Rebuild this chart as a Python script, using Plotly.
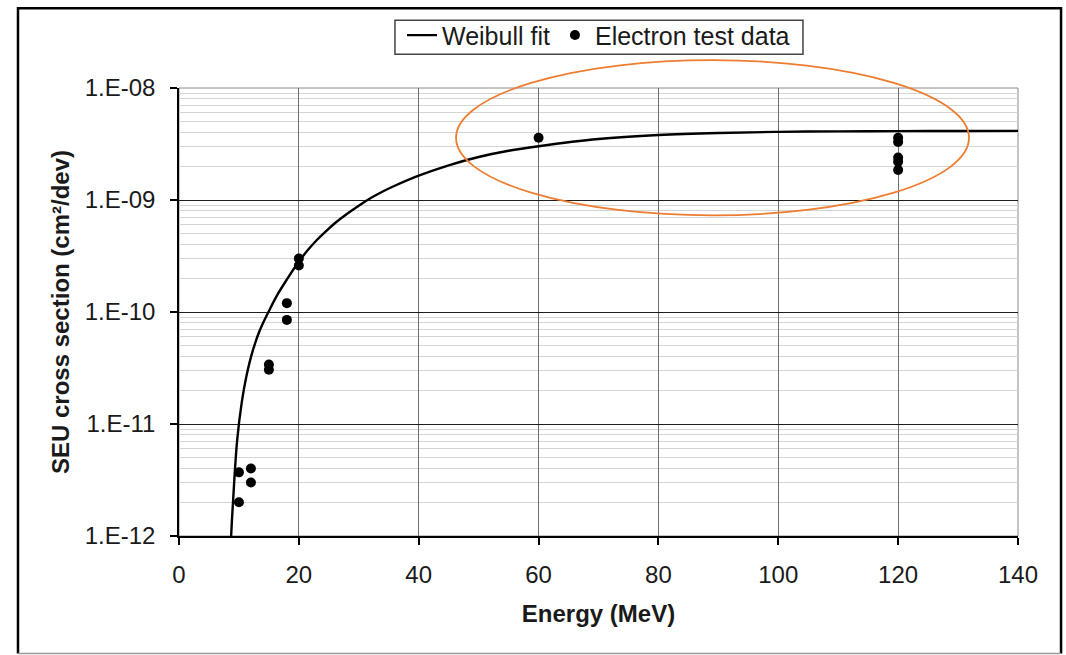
import plotly.graph_objects as go

# Electron test data (Energy MeV, SEU cross section cm^2/dev)
energy_data = [10, 10, 12, 12, 15, 15, 18, 18, 20, 20, 60, 120, 120, 120, 120, 120]
seu_data = [3.7e-12, 2.0e-12, 4.0e-12, 3.0e-12, 3.4e-11, 3.05e-11, 1.2e-10, 8.5e-11,
            3.0e-10, 2.6e-10, 3.6e-9, 3.6e-9, 3.3e-9, 2.4e-9, 2.2e-9, 1.85e-9]

# Weibull fit curve
fit_energy = [8.5, 8.7, 9.0, 9.7, 10.5, 11.3, 12.3, 13.5, 15.2, 16.5, 18.0, 20.0, 21.5, 23.0,
              24.5, 26.0, 28.0, 30.0, 32.0, 34.0, 36.0, 40.0, 45.0, 50.0, 55.0, 60.0, 70.0,
              80.0, 90.0, 100.0, 110.0, 120.0, 130.0, 140.0]
fit_seu = [5e-13, 1.0e-12, 1.96e-12, 7.1e-12, 1.6e-11, 2.75e-11, 4.5e-11, 6.9e-11, 1.07e-10,
           1.45e-10, 1.95e-10, 2.82e-10, 3.57e-10, 4.39e-10, 5.25e-10, 6.2e-10, 7.5e-10,
           8.9e-10, 1.04e-9, 1.19e-9, 1.34e-9, 1.65e-9, 2.04e-9, 2.42e-9, 2.75e-9, 3.02e-9,
           3.50e-9, 3.80e-9, 3.97e-9, 4.06e-9, 4.10e-9, 4.12e-9, 4.13e-9, 4.14e-9]

x_ticks = [0, 20, 40, 60, 80, 100, 120, 140]
y_tickvals = [1e-12, 1e-11, 1e-10, 1e-9, 1e-8]
y_ticktext = ["1.E-12", "1.E-11", "1.E-10", "1.E-09", "1.E-08"]

FONT = "Liberation Sans, Arial, sans-serif"
TXT = "#1a1a1a"

fig = go.Figure()
fig.add_trace(go.Scatter(
    x=fit_energy, y=fit_seu, mode="lines", name="Weibull fit",
    line=dict(color="black", width=2.4, shape="spline", smoothing=1.0),
))
fig.add_trace(go.Scatter(
    x=energy_data, y=seu_data, mode="markers", name="Electron test data",
    marker=dict(color="black", size=10, symbol="circle"),
))

minor_vals = [m * 10 ** e for e in range(-12, -8) for m in range(2, 10)]

fig.update_layout(
    width=1066, height=655,
    margin=dict(l=179, r=48, t=86, b=119),
    paper_bgcolor="white", plot_bgcolor="white",
    font=dict(family=FONT, size=24, color=TXT),
    showlegend=True,
    legend=dict(
        orientation="h", x=0.5, xanchor="center", y=1.1689, yanchor="top",
        borderwidth=0, bgcolor="rgba(0,0,0,0)",
        font=dict(family=FONT, size=25, color=TXT),
        itemwidth=30, tracegroupgap=0,
    ),
    xaxis=dict(
        range=[0, 140], tickvals=x_ticks, ticktext=[str(v) for v in x_ticks],
        showgrid=True, gridcolor="#6e6e6e", gridwidth=1,
        showline=True, linecolor="black", linewidth=1.5,
        ticks="outside", ticklen=7, tickcolor="black", tickwidth=1.5,
        zeroline=False, ticklabelstandoff=9,
        tickfont=dict(family=FONT, size=24, color=TXT),
        title=dict(text="<b>Energy (MeV)</b>", font=dict(family=FONT, size=24, color=TXT), standoff=19),
        automargin=False,
    ),
    yaxis=dict(
        type="log", range=[-12, -8], tickvals=y_tickvals, ticktext=y_ticktext,
        showgrid=True, gridcolor="#1e1e1e", gridwidth=1,
        showline=True, linecolor="black", linewidth=1.5,
        ticks="outside", ticklen=7, tickcolor="black", tickwidth=1.5,
        zeroline=False, ticklabelstandoff=10,
        tickfont=dict(family=FONT, size=24, color=TXT),
        minor=dict(tickvals=minor_vals, showgrid=True, gridcolor="#d4d4d4", gridwidth=1, ticks=""),
        title=dict(text="<b>SEU cross section (cm²/dev)</b>", font=dict(family=FONT, size=24, color=TXT), standoff=8),
        automargin=False,
    ),
    shapes=[
        # plot area border (gray)
        dict(type="rect", xref="paper", yref="paper", x0=0, x1=1, y0=0, y1=1,
             line=dict(color="#8a8a8a", width=1), layer="below"),
        # orange highlight ellipse
        dict(type="circle", xref="paper", yref="paper", x0=0.3302, x1=0.9416, y0=0.7156, y1=1.0622,
             line=dict(color="#ED7D31", width=1.8), layer="above"),
        # legend box
        dict(type="rect", xref="paper", yref="paper", x0=0.2574, x1=0.7437, y0=1.0756, y1=1.1511,
             line=dict(color="#444", width=1.5), fillcolor="white", layer="above"),
        # outer frame
        dict(type="path", xref="paper", yref="paper",
             path="M -0.1919,-0.2622 L -0.1919,1.1778 L 1.0513,1.1778 L 1.0513,-0.2622",
             line=dict(color="black", width=2.5)),
        dict(type="line", xref="paper", yref="paper", x0=-0.1919, x1=1.0513, y0=-0.2622, y1=-0.2622,
             line=dict(color="#9a9a9a", width=1.5)),
    ],
)

fig.write_html("out.html")
